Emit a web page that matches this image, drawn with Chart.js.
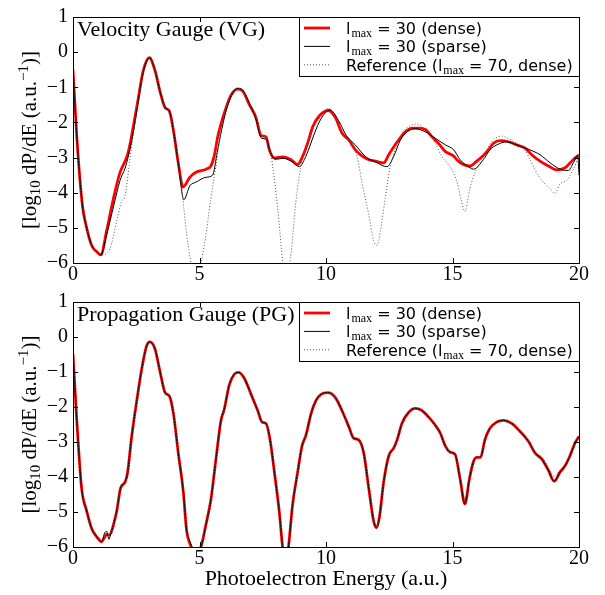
<!DOCTYPE html>
<html>
<head>
<meta charset="utf-8">
<script src="https://cdn.jsdelivr.net/npm/chart.js@4.4.0/dist/chart.umd.min.js"></script>
<style>
  body { margin: 0; width: 605px; height: 595px; background: #fff; overflow: hidden; }
  canvas { position: absolute; left: 0; }
  #vgChart { top: 0; }
  #pgChart { top: 285px; }
</style>
</head>
<body>
<canvas id="vgChart" width="605" height="285"></canvas>
<canvas id="pgChart" width="605" height="310"></canvas>
<script>
// axis ticks
const xTicks = [0, 5, 10, 15, 20];
const yTicks = [-6, -5, -4, -3, -2, -1, 0, 1];

// Velocity gauge: lmax = 30 (dense)
const vgDenseE = [0, 0.15, 0.37, 0.54, 0.74, 0.94, 1.1, 1.33, 1.6, 1.86, 2.06, 2.19, 2.38, 2.58, 2.78, 3.02, 3.24, 3.44, 3.64, 3.81, 3.97, 4.16, 4.35, 4.62, 4.86, 5.26, 5.45, 5.58, 5.72, 5.85, 6.05, 6.25, 6.5, 6.7, 6.97, 7.23, 7.43, 7.63, 7.76, 7.95, 8.29, 8.62, 8.88, 9.08, 9.27, 9.47, 9.74, 10.1, 10.37, 10.63, 10.9, 11.16, 11.42, 11.69, 11.95, 12.28, 12.48, 12.68, 12.87, 13.14, 13.4, 13.66, 13.93, 14.19, 14.45, 14.72, 15.05, 15.17, 15.43, 15.69, 15.96, 16.22, 16.42, 16.61, 16.88, 17.21, 17.54, 17.87, 18.13, 18.46, 18.79, 19.12, 19.45, 19.65, 19.84, 20];
const vgDenseY = [-0.5, -2.4, -4.35, -5.0, -5.5, -5.68, -5.77, -5.08, -4.16, -3.42, -3.1, -2.83, -2.13, -1.31, -0.52, -0.16, -0.52, -1.12, -1.58, -1.68, -2.23, -3.15, -3.84, -3.56, -3.42, -3.33, -3.24, -2.96, -2.41, -2.04, -1.58, -1.22, -1.05, -1.1, -1.49, -1.86, -2.37, -2.41, -2.78, -3.01, -2.98, -3.06, -3.2, -2.96, -2.6, -2.13, -1.81, -1.66, -1.86, -2.3, -2.5, -2.78, -2.95, -3.06, -3.1, -3.15, -2.92, -2.69, -2.5, -2.27, -2.16, -2.16, -2.2, -2.41, -2.6, -2.83, -2.96, -3.06, -3.2, -3.24, -3.1, -2.94, -2.78, -2.6, -2.52, -2.55, -2.64, -2.73, -2.92, -3.1, -3.24, -3.35, -3.29, -3.15, -3.01, -2.92];

// Velocity gauge: lmax = 30 (sparse)
const vgSparseE = [0, 0.15, 0.37, 0.54, 0.74, 0.94, 1.1, 1.33, 1.6, 1.86, 2.06, 2.19, 2.38, 2.58, 2.78, 3.02, 3.24, 3.44, 3.64, 3.81, 3.97, 4.16, 4.38, 4.62, 4.86, 5.26, 5.52, 5.7, 5.88, 6.12, 6.5, 6.7, 6.97, 7.23, 7.45, 7.65, 7.8, 8.0, 8.3, 8.62, 8.95, 9.15, 9.35, 9.55, 9.8, 10.15, 10.5, 10.8, 11.16, 11.56, 12.02, 12.41, 12.68, 12.94, 13.2, 13.53, 13.93, 14.32, 14.72, 15.05, 15.3, 15.69, 15.83, 16.22, 16.48, 16.75, 17.15, 17.54, 18.06, 18.46, 18.86, 19.25, 19.58, 19.78, 19.95, 20];
const vgSparseY = [-0.5, -2.4, -4.35, -5.0, -5.5, -5.68, -5.77, -5.2, -4.4, -3.65, -3.3, -2.95, -2.3, -1.4, -0.55, -0.16, -0.52, -1.12, -1.58, -1.68, -2.23, -3.15, -4.2, -3.8, -3.7, -3.56, -3.5, -2.85, -2.2, -1.5, -1.03, -1.08, -1.45, -1.9, -2.45, -2.48, -2.85, -3.05, -3.02, -3.1, -3.26, -3.05, -2.7, -2.3, -1.9, -1.64, -1.95, -2.37, -2.64, -2.97, -3.15, -3.26, -2.96, -2.5, -2.27, -2.18, -2.27, -2.45, -2.64, -2.78, -3.06, -3.29, -3.33, -3.06, -2.78, -2.64, -2.55, -2.64, -2.78, -2.92, -3.15, -3.33, -3.37, -3.15, -2.95, -3.5];

// Velocity gauge: reference (lmax = 70, dense)
const vgRefE = [0, 0.15, 0.37, 0.54, 0.74, 0.94, 1.1, 1.46, 1.73, 1.92, 2.06, 2.25, 2.45, 2.6, 2.78, 3.02, 3.24, 3.44, 3.64, 3.81, 3.97, 4.16, 4.33, 4.49, 4.62, 4.85, 5.06, 5.26, 5.45, 5.65, 5.85, 6.05, 6.25, 6.5, 6.7, 6.97, 7.23, 7.43, 7.63, 7.82, 8.09, 8.29, 8.4, 8.5, 8.62, 8.81, 9.01, 9.15, 9.35, 9.55, 9.8, 10.1, 10.4, 10.8, 11.03, 11.23, 11.42, 11.69, 11.88, 12.02, 12.15, 12.34, 12.54, 12.74, 13.0, 13.33, 13.6, 13.93, 14.32, 14.58, 14.78, 15.05, 15.2, 15.36, 15.49, 15.69, 15.89, 16.15, 16.42, 16.68, 16.95, 17.21, 17.54, 17.87, 18.13, 18.39, 18.66, 18.85, 19.05, 19.25, 19.51, 19.78, 20];
const vgRefY = [-0.5, -2.4, -4.35, -5.0, -5.5, -5.68, -5.77, -5.59, -4.8, -4.25, -4.07, -3.06, -2.0, -1.35, -0.52, -0.16, -0.52, -1.12, -1.58, -1.68, -2.23, -3.15, -4.1, -5.17, -5.82, -6.6, -6.0, -5.17, -4.16, -3.24, -2.2, -1.6, -1.22, -1.02, -1.08, -1.45, -1.86, -2.37, -2.41, -2.9, -4.44, -6.0, -6.6, -6.2, -5.72, -4.25, -3.24, -2.85, -2.5, -2.1, -1.85, -1.6, -1.85, -2.35, -2.6, -2.97, -3.7, -4.62, -5.36, -5.5, -5.1, -4.16, -3.24, -2.78, -2.32, -2.09, -2.05, -2.2, -2.6, -2.97, -3.15, -3.45, -3.75, -4.25, -4.53, -3.88, -3.42, -3.06, -2.69, -2.46, -2.39, -2.46, -2.6, -2.8, -3.15, -3.51, -3.75, -3.88, -4.02, -3.75, -3.65, -3.33, -2.92];

// Propagation gauge: one energy grid for all three curves
const pgE = [0, 0.15, 0.34, 0.54, 0.74, 0.94, 1.13, 1.25, 1.33, 1.42, 1.5, 1.59, 1.73, 1.88, 2.06, 2.15, 2.32, 2.52, 2.72, 2.91, 3.04, 3.24, 3.44, 3.64, 3.81, 3.97, 4.16, 4.36, 4.49, 4.62, 4.85, 5.06, 5.26, 5.45, 5.65, 5.85, 5.98, 6.18, 6.38, 6.55, 6.77, 7.04, 7.3, 7.47, 7.63, 7.79, 7.96, 8.15, 8.3, 8.4, 8.5, 8.68, 8.88, 9.05, 9.21, 9.41, 9.6, 9.8, 10.07, 10.37, 10.63, 10.9, 11.09, 11.29, 11.49, 11.69, 11.88, 11.99, 12.11, 12.28, 12.48, 12.68, 12.81, 13.0, 13.27, 13.53, 13.79, 14.06, 14.32, 14.52, 14.72, 14.91, 15.1, 15.3, 15.49, 15.67, 15.82, 15.96, 16.11, 16.28, 16.48, 16.75, 17.01, 17.34, 17.67, 18.0, 18.26, 18.53, 18.79, 19.02, 19.25, 19.45, 19.64, 19.84, 20];
const pgDenseY = [-0.48, -2.38, -4.32, -4.97, -5.48, -5.71, -5.85, -5.72, -5.64, -5.66, -5.6, -5.39, -4.97, -4.32, -4.14, -3.91, -2.84, -1.82, -0.9, -0.25, -0.14, -0.34, -0.99, -1.59, -1.69, -2.19, -3.31, -4.42, -5.53, -5.9, -6.2, -5.99, -5.34, -4.65, -3.49, -2.38, -2.06, -1.36, -1.06, -1.01, -1.18, -1.64, -2.1, -2.43, -2.47, -2.94, -3.86, -4.97, -6.1, -6.4, -6.1, -4.79, -3.86, -3.12, -2.8, -2.19, -1.82, -1.64, -1.59, -1.73, -2.1, -2.56, -2.89, -2.94, -3.31, -4.32, -5.25, -5.45, -5.16, -4.14, -3.4, -3.17, -2.94, -2.47, -2.15, -2.04, -2.1, -2.29, -2.52, -2.75, -3.12, -3.29, -3.35, -4.05, -4.77, -4.05, -3.58, -3.44, -3.44, -2.94, -2.61, -2.43, -2.38, -2.47, -2.7, -2.98, -3.31, -3.49, -3.81, -4.12, -3.86, -3.68, -3.4, -3.03, -2.84];
const pgSparseY = [-0.48, -2.38, -4.32, -4.97, -5.48, -5.71, -5.85, -5.6, -5.55, -5.78, -5.6, -5.39, -4.97, -4.32, -4.14, -3.91, -2.84, -1.82, -0.9, -0.25, -0.14, -0.34, -0.99, -1.59, -1.69, -2.19, -3.31, -4.42, -5.5, -5.85, -6.1, -5.99, -5.34, -4.65, -3.49, -2.38, -2.06, -1.36, -1.06, -1.01, -1.18, -1.64, -2.1, -2.43, -2.47, -2.94, -3.86, -4.97, -6.1, -6.4, -6.1, -4.79, -3.86, -3.12, -2.8, -2.19, -1.82, -1.64, -1.59, -1.73, -2.1, -2.56, -2.89, -2.94, -3.31, -4.32, -5.25, -5.45, -5.16, -4.14, -3.4, -3.17, -2.94, -2.47, -2.15, -2.04, -2.1, -2.29, -2.52, -2.75, -3.12, -3.29, -3.35, -4.05, -4.77, -4.05, -3.58, -3.44, -3.44, -2.94, -2.61, -2.43, -2.38, -2.47, -2.7, -2.98, -3.31, -3.49, -3.81, -4.12, -3.86, -3.68, -3.4, -3.03, -2.84];
const pgRefY = [-0.48, -2.38, -4.32, -4.97, -5.48, -5.71, -5.85, -5.72, -5.64, -5.66, -5.6, -5.39, -4.97, -4.32, -4.14, -3.91, -2.84, -1.82, -0.9, -0.25, -0.14, -0.34, -0.99, -1.59, -1.69, -2.19, -3.31, -4.42, -5.53, -5.9, -6.2, -5.99, -5.34, -4.65, -3.49, -2.38, -2.06, -1.36, -1.06, -1.01, -1.18, -1.64, -2.1, -2.43, -2.47, -2.94, -3.86, -4.97, -6.1, -6.4, -6.1, -4.79, -3.86, -3.12, -2.8, -2.19, -1.82, -1.64, -1.59, -1.73, -2.1, -2.56, -2.89, -2.94, -3.31, -4.32, -5.25, -5.45, -5.16, -4.14, -3.4, -3.17, -2.94, -2.47, -2.15, -2.04, -2.1, -2.29, -2.52, -2.75, -3.12, -3.29, -3.35, -4.0, -4.62, -4.0, -3.58, -3.44, -3.44, -2.94, -2.61, -2.43, -2.38, -2.47, -2.7, -2.98, -3.31, -3.42, -3.72, -3.98, -3.8, -3.66, -3.4, -3.03, -2.84];

const serif = '"Liberation Serif", "Times New Roman", serif';
const sans = '"DejaVu Sans", sans-serif';

function pts(xs, ys) {
    return xs.map((x, i) => ({ x: x, y: ys[i] }));
}

const legendRows = [
    { pre: 'l', post: ' = 30 (dense)', color: '#ff0000', width: 2.8, dash: [] },
    { pre: 'l', post: ' = 30 (sparse)', color: '#000000', width: 1, dash: [] },
    { pre: 'Reference (l', post: ' = 70, dense)', color: '#555555', width: 1, dash: [1, 2] }
];

// frame, inward ticks, panel title, legend box and y axis title
const decor = {
    id: 'decor',
    afterDraw(chart, args, opts) {
        const ctx = chart.ctx;
        const a = chart.chartArea;
        const xs = chart.scales.x, ys = chart.scales.y;
        ctx.save();

        ctx.strokeStyle = '#000';
        ctx.lineWidth = 1;
        ctx.setLineDash([]);
        ctx.beginPath();
        xTicks.forEach(v => {
            const px = Math.round(xs.getPixelForValue(v)) + 0.5;
            ctx.moveTo(px, a.bottom); ctx.lineTo(px, a.bottom - 5);
            ctx.moveTo(px, a.top); ctx.lineTo(px, a.top + 5);
        });
        yTicks.forEach(v => {
            const py = Math.round(ys.getPixelForValue(v)) + 0.5;
            ctx.moveTo(a.left, py); ctx.lineTo(a.left + 5, py);
            ctx.moveTo(a.right, py); ctx.lineTo(a.right - 5, py);
        });
        ctx.stroke();
        ctx.strokeRect(Math.round(a.left) + 0.5, Math.round(a.top) + 0.5,
            Math.round(a.right - a.left), Math.round(a.bottom - a.top));

        // panel title
        ctx.fillStyle = '#000';
        ctx.font = '22px ' + serif;
        ctx.textAlign = 'left';
        ctx.textBaseline = 'alphabetic';
        ctx.fillText(opts.title, a.left + 4, a.top + 19);

        // legend
        const bx = a.right - 280, by = a.top, bw = 280, bh = 59;
        ctx.fillStyle = '#fff';
        ctx.fillRect(bx, by, bw, bh);
        ctx.strokeStyle = '#000';
        ctx.strokeRect(Math.round(bx) + 0.5, Math.round(by) + 0.5, bw, bh);
        legendRows.forEach((r, i) => {
            const ry = by + 11 + i * 18.4;
            ctx.beginPath();
            ctx.strokeStyle = r.color;
            ctx.lineWidth = r.width;
            ctx.setLineDash(r.dash);
            ctx.moveTo(bx + 5, ry); ctx.lineTo(bx + 31, ry);
            ctx.stroke();
            ctx.setLineDash([]);
            let tx = bx + 47;
            const base = ry + 6;
            ctx.fillStyle = '#000';
            ctx.font = '16px ' + sans;
            ctx.fillText(r.pre, tx, base);
            tx += ctx.measureText(r.pre).width + 1;
            ctx.font = '12px ' + serif;
            ctx.fillText('max', tx, base + 3);
            tx += ctx.measureText('max').width;
            ctx.font = '16px ' + sans;
            ctx.fillText(r.post, tx, base);
        });

        // y axis title with subscript and superscript
        const parts = [
            ['[log', 21, 0], ['10', 15, 4], [' dP/dE (a.u.', 21, 0], ['\u22121', 15, -8], [')]', 21, 0]
        ];
        let total = 0;
        parts.forEach(p => { ctx.font = p[1] + 'px ' + serif; total += ctx.measureText(p[0]).width; });
        ctx.translate(36, (a.top + a.bottom) / 2);
        ctx.rotate(-Math.PI / 2);
        let tx = -total / 2;
        ctx.fillStyle = '#000';
        parts.forEach(p => {
            ctx.font = p[1] + 'px ' + serif;
            ctx.fillText(p[0], tx, p[2]);
            tx += ctx.measureText(p[0]).width;
        });
        ctx.restore();
    }
};

function makeChart(id, title, dense, sparse, ref, xHeight, showXTitle) {
    new Chart(document.getElementById(id), {
        type: 'line',
        data: {
            datasets: [
                { label: 'dense', data: dense, borderColor: '#ff0000', borderWidth: 2.8, order: 2 },
                { label: 'sparse', data: sparse, borderColor: '#000000', borderWidth: 1, order: 1 },
                { label: 'reference', data: ref, borderColor: '#555555', borderWidth: 1, borderDash: [1, 2], order: 0 }
            ]
        },
        options: {
            responsive: false,
            animation: false,
            devicePixelRatio: 1,
            parsing: false,
            layout: { padding: { top: 10, right: 26, left: 0, bottom: 0 } },
            elements: {
                point: { radius: 0 },
                line: { cubicInterpolationMode: 'monotone', fill: false }
            },
            plugins: {
                legend: { display: false },
                tooltip: { enabled: false },
                decor: { title: title }
            },
            scales: {
                x: {
                    type: 'linear',
                    min: 0,
                    max: 20,
                    afterBuildTicks: s => { s.ticks = xTicks.map(v => ({ value: v })); },
                    afterFit: s => { s.height = xHeight; },
                    grid: { display: false, drawTicks: false },
                    border: { display: false },
                    ticks: {
                        color: '#000',
                        font: { family: serif, size: 20 },
                        padding: 0,
                        maxRotation: 0,
                        autoSkip: false
                    },
                    title: {
                        display: showXTitle,
                        text: 'Photoelectron Energy (a.u.)',
                        color: '#000',
                        font: { family: serif, size: 22 },
                        padding: { top: 0, bottom: 3 }
                    }
                },
                y: {
                    type: 'linear',
                    min: -6,
                    max: 1,
                    afterBuildTicks: s => { s.ticks = yTicks.map(v => ({ value: v })); },
                    afterFit: s => { s.width = 73; },
                    grid: { display: false, drawTicks: false },
                    border: { display: false },
                    ticks: {
                        color: '#000',
                        font: { family: serif, size: 20 },
                        padding: 5,
                        callback: v => String(v).replace('-', '\u2212')
                    }
                }
            }
        },
        plugins: [decor]
    });
}

makeChart('vgChart', 'Velocity Gauge (VG)',
    pts(vgDenseE, vgDenseY), pts(vgSparseE, vgSparseY), pts(vgRefE, vgRefY), 22, false);
makeChart('pgChart', 'Propagation Gauge (PG)',
    pts(pgE, pgDenseY), pts(pgE, pgSparseY), pts(pgE, pgRefY), 48, true);
</script>
</body>
</html>
